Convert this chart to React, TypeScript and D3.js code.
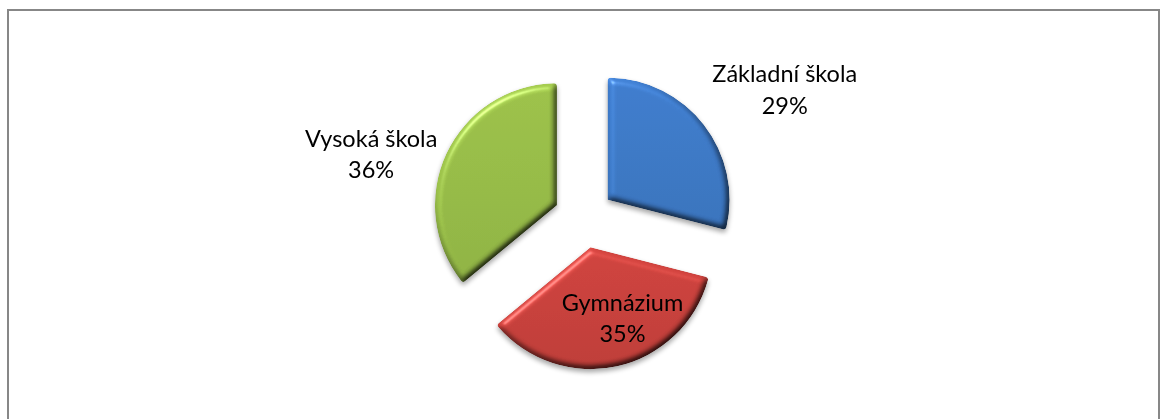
import React from "react";
import * as d3 from "d3";

const categories = ["Základní škola", "Gymnázium", "Vysoká škola"];
const values = [29, 35, 36];
const percentLabels = ["29%", "35%", "36%"];
const palette = ["#3f7dcd", "#cf433e", "#9cc24a"];

const W = 1168;
const H = 419;

export default function App() {
  const cx = 584;
  const cy = 218;
  const r = 122;
  const explode = r * 0.245;
  const fontSize = 23.5;
  const lineGap = 31.5;

  const pie = d3.pie<number>().sort(null).value((d) => d);
  const arcs = pie(values);
  const arcGen = d3
    .arc<d3.PieArcDatum<number>>()
    .innerRadius(0)
    .outerRadius(r)
    .cornerRadius(3);

  // label layout: outside-end for the two side slices, inside for the bottom one
  const labelModes = ["outside", "inside", "outside"];

  const slices = arcs.map((a, i) => {
    const mid = (a.startAngle + a.endAngle) / 2;
    const dx = Math.sin(mid);
    const dy = -Math.cos(mid);
    const ox = cx + dx * explode;
    const oy = cy + dy * explode;
    let lx: number;
    let ly: number;
    if (labelModes[i] === "inside") {
      lx = ox + dx * r * 0.6 + 16;
      ly = oy + dy * r * 0.6;
    } else {
      const boxW = i === 0 ? 152 : 140;
      const boxH = 62;
      const px = ox + dx * (r + 6);
      const py = oy + dy * (r + 6);
      const ky = Math.abs(dy) > 0.5 ? Math.sign(dy) : 0;
      lx = px + Math.sign(dx) * boxW / 2;
      ly = py + ky * boxH / 2 + (ky === 0 ? 4 : 0);
    }
    return { a, i, ox, oy, lx, ly };
  });

  return (
    <svg
      width={W}
      height={H}
      viewBox={`0 0 ${W} ${H}`}
      style={{ position: "absolute", left: 0, top: 0, display: "block", background: "#fff" }}
    >
      <defs>
        <filter id="bevel" x="-20%" y="-20%" width="140%" height="140%" colorInterpolationFilters="sRGB">
          <feGaussianBlur in="SourceAlpha" stdDeviation="3" result="blur" />
          <feDiffuseLighting in="blur" surfaceScale="4" diffuseConstant="1.13" lightingColor="#ffffff" result="diff">
            <feDistantLight azimuth="235" elevation="58" />
          </feDiffuseLighting>
          <feComposite in="SourceGraphic" in2="diff" operator="arithmetic" k1="1" k2="0" k3="0" k4="0" result="shaded" />
          <feSpecularLighting in="blur" surfaceScale="4" specularConstant="0.6" specularExponent="40" lightingColor="#ffffff" result="spec">
            <feDistantLight azimuth="235" elevation="40" />
          </feSpecularLighting>
          <feComposite in="spec" in2="SourceAlpha" operator="in" result="specIn" />
          <feComposite in="shaded" in2="specIn" operator="arithmetic" k1="0" k2="1" k3="0.5" k4="0" result="lit" />
          <feComposite in="lit" in2="SourceAlpha" operator="in" result="litIn" />
          <feGaussianBlur in="SourceAlpha" stdDeviation="2.5" result="sblur" />
          <feOffset in="sblur" dx="0" dy="3" result="soff" />
          <feComponentTransfer in="soff" result="shadow">
            <feFuncA type="linear" slope="0.35" />
          </feComponentTransfer>
          <feMerge>
            <feMergeNode in="shadow" />
            <feMergeNode in="litIn" />
          </feMerge>
        </filter>
        {palette.map((c, i) => {
          const lighter = d3.color(c)!.brighter(0.12).formatHex();
          const darker = d3.color(c)!.darker(0.12).formatHex();
          return (
            <linearGradient key={i} id={`g${i}`} x1="0" y1="0" x2="0" y2="1">
              <stop offset="0%" stopColor={lighter} />
              <stop offset="100%" stopColor={darker} />
            </linearGradient>
          );
        })}
      </defs>
      <rect x={8} y={10} width={1151} height={440} fill="#fff" stroke="#878787" strokeWidth={2} />
      <g filter="url(#bevel)">
        {slices.map((s) => (
          <path
            key={s.i}
            d={arcGen(s.a) || ""}
            transform={`translate(${s.ox},${s.oy})`}
            fill={`url(#g${s.i})`}
          />
        ))}
      </g>
      <g fontFamily="Lato, 'Open Sans', sans-serif" fontSize={fontSize} fill="#000" textAnchor="middle">
        {slices.map((s) => (
          <text key={s.i} x={s.lx} y={s.ly}>
            <tspan x={s.lx} y={s.ly - 8}>{categories[s.i]}</tspan>
            <tspan x={s.lx} y={s.ly - 8 + lineGap}>{percentLabels[s.i]}</tspan>
          </text>
        ))}
      </g>
    </svg>
  );
}
